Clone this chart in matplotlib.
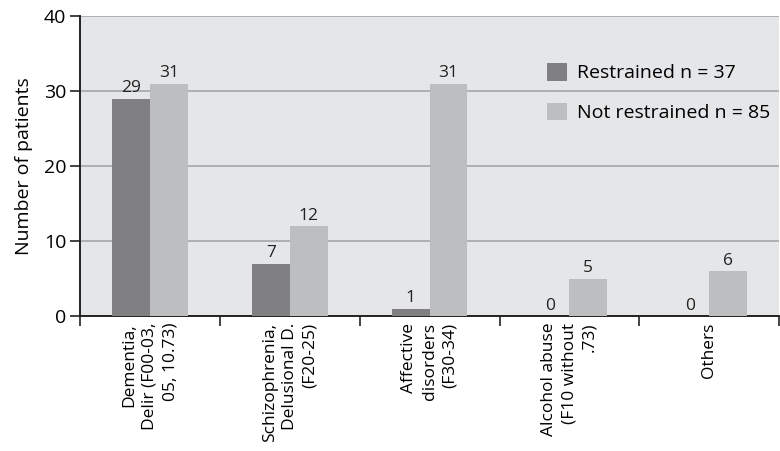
import numpy as np
import matplotlib.pyplot as plt

plt.rcParams['font.family'] = ['Open Sans', 'DejaVu Sans']

categories = ['Dementia,\nDelir (F00-03,\n05, 10.73)',
              'Schizophrenia,\nDelusional D.\n(F20-25)',
              'Affective\ndisorders\n(F30-34)',
              'Alcohol abuse\n(F10 without\n.73)',
              'Others']
restrained = [29, 7, 1, 0, 0]
not_restrained = [31, 12, 31, 5, 6]
legend_labels = ['Restrained n = 37', 'Not restrained n = 85']

dark = '#808083'
light = '#bdbec0'

fig = plt.figure(figsize=(7.8, 4.51), dpi=100)
ax = fig.add_axes([0.1026, 0.2993, 0.8964, 0.6652])
ax.set_facecolor('#e5e6e8')

x = np.arange(len(categories))
w = 0.27
b1 = ax.bar(x - w / 2, restrained, w, color=dark, zorder=3)
b2 = ax.bar(x + w / 2, not_restrained, w, color=light, zorder=3)

for bars in (b1, b2):
    for r in bars:
        ax.text(r.get_x() + r.get_width() / 2, r.get_height() + 0.3,
                str(int(r.get_height())), ha='center', va='bottom',
                fontsize=12.5, color='#222222', zorder=4)

ax.set_xlim(-0.5, len(categories) - 0.5)
ax.set_ylim(0, 40)
ax.set_yticks([0, 10, 20, 30, 40])
ax.yaxis.grid(True, color='#a5a6a8', linewidth=1.2, zorder=1)
ax.set_axisbelow(True)

ax.set_xticks(x)
ax.set_xticklabels(categories, rotation=90, fontsize=12.5, ha='center',
                   va='top', multialignment='right', linespacing=1.35)
ax.tick_params(axis='x', which='major', length=0, pad=5)
ax.set_xticks(np.arange(len(categories) + 1) - 0.5, minor=True)
ax.tick_params(axis='x', which='minor', length=7, width=1.2, color='#222222')
ax.tick_params(axis='y', length=7, width=1.2, labelsize=14, color='#222222',
               pad=3)

for s in ['top', 'right']:
    ax.spines[s].set_visible(False)
for s in ['left', 'bottom']:
    ax.spines[s].set_linewidth(1.4)
    ax.spines[s].set_color('#222222')

ax.set_ylabel('Number of patients', fontsize=14, labelpad=8)

leg = ax.legend([b1, b2], legend_labels, loc='upper left',
                bbox_to_anchor=(0.668, 0.843), frameon=False, fontsize=14,
                borderpad=0, borderaxespad=0,
                handlelength=1.0, handleheight=1.0, labelspacing=1.05,
                handletextpad=0.55)

fig.savefig('out.png', dpi=100, facecolor='white')
